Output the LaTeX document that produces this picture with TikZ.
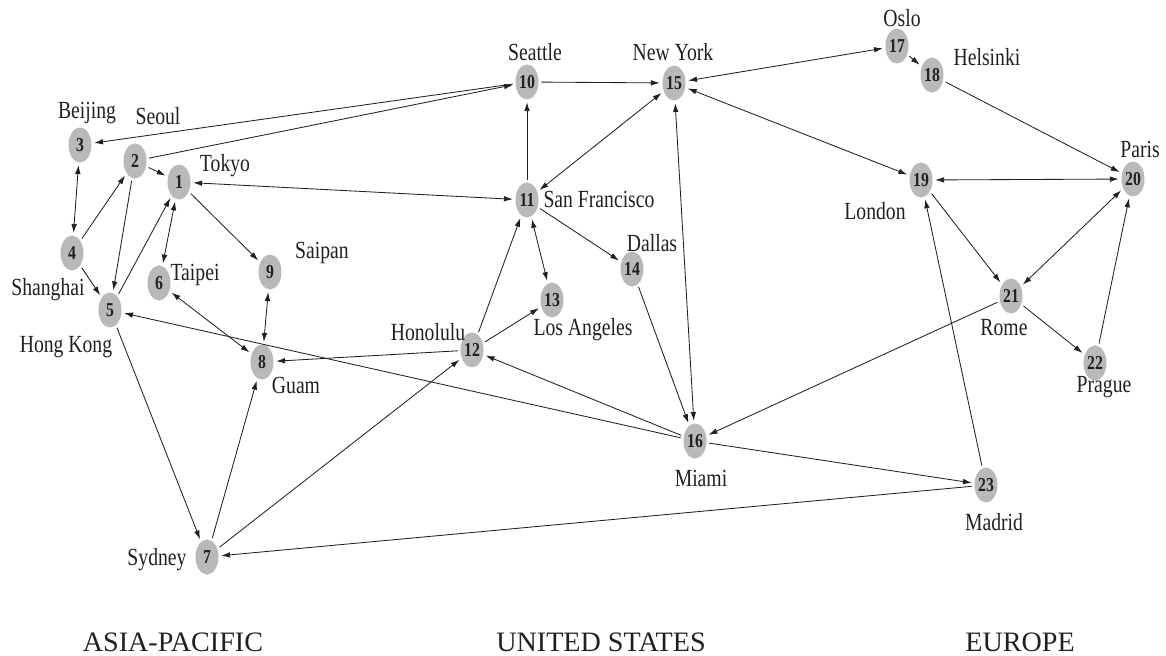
\documentclass[tikz,border=0pt]{standalone}
\usepackage{fontspec}
\setmainfont{Liberation Serif}
\newfontfamily\cityfont[FakeStretch=0.8]{Liberation Serif}
\usetikzlibrary{arrows.meta,shapes.geometric}
\definecolor{HubGray}{RGB}{185,185,185}
\definecolor{InkBlack}{RGB}{35,31,32}
\tikzset{
    hub/.style={ellipse, fill=HubGray, minimum width=0.575cm, minimum height=0.875cm, inner sep=0pt, outer sep=2pt, text=InkBlack, font=\cityfont\bfseries\fontsize{14}{14}\selectfont},
    city/.style={inner sep=0pt, text=InkBlack, font=\cityfont\fontsize{17.5}{18}\selectfont},
    region/.style={inner sep=0pt, text=InkBlack, font=\fontsize{20}{22}\selectfont},
    oneway/.style={-{Latex[length=2.2mm,width=1.4mm]}, line width=0.6pt, draw=InkBlack},
    twoway/.style={{Latex[length=2.2mm,width=1.4mm]}-{Latex[length=2.2mm,width=1.4mm]}, line width=0.6pt, draw=InkBlack},
}

\begin{document}
\begin{tikzpicture}[x=0.025cm, y=-0.025cm]
\useasboundingbox (0,0) rectangle (1166,656);

% hubs
\node[hub] (n1) at (179,182) {1};
\node[hub] (n2) at (135,161) {2};
\node[hub] (n3) at (80,145) {3};
\node[hub] (n4) at (72,253) {4};
\node[hub] (n5) at (110,310) {5};
\node[hub] (n6) at (159,283) {6};
\node[hub] (n7) at (207,557) {7};
\node[hub] (n8) at (262,362) {8};
\node[hub] (n9) at (270,272) {9};
\node[hub] (n10) at (527,82) {10};
\node[hub] (n11) at (527,200) {11};
\node[hub] (n12) at (472,350) {12};
\node[hub] (n13) at (552,300) {13};
\node[hub] (n14) at (632,269) {14};
\node[hub] (n15) at (674,83) {15};
\node[hub] (n16) at (695,441) {16};
\node[hub] (n17) at (897,46) {17};
\node[hub] (n18) at (932,75) {18};
\node[hub] (n19) at (921,180) {19};
\node[hub] (n20) at (1133,179) {20};
\node[hub] (n21) at (1011,296) {21};
\node[hub] (n22) at (1095,363) {22};
\node[hub] (n23) at (986,485) {23};

% city names
\node[city] (tokyo) at (225,166) {Tokyo};
\node[city] (seoul) at (158,116) {Seoul};
\node[city] (beijing) at (87,113) {Beijing};
\node[city] (shanghai) at (48,290) {Shanghai};
\node[city] (hongkong) at (66,347) {Hong Kong};
\node[city] (taipei) at (195,275) {Taipei};
\node[city] (sydney) at (157,560) {Sydney};
\node[city] (guam) at (296,385) {Guam};
\node[city] (saipan) at (322,253) {Saipan};
\node[city] (seattle) at (535,52) {Seattle};
\node[city] (sanfran) at (599,199) {San Francisco};
\node[city] (honolulu) at (428,332) {Honolulu};
\node[city] (losangeles) at (583,330) {Los Angeles};
\node[city] (dallas) at (652,243) {Dallas};
\node[city] (newyork) at (673,52) {New York};
\node[city] (miami) at (701,478) {Miami};
\node[city] (oslo) at (902,18) {Oslo};
\node[city] (helsinki) at (987,57) {Helsinki};
\node[city] (london) at (875,211) {London};
\node[city] (paris) at (1140,149) {Paris};
\node[city] (rome) at (1004,328) {Rome};
\node[city] (prague) at (1104,387) {Prague};
\node[city] (madrid) at (994,522) {Madrid};

% regions
\node[region] (asia) at (173,642) {ASIA-PACIFIC};
\node[region] (us) at (601,642) {UNITED STATES};
\node[region] (europe) at (1020,642) {EUROPE};

% asia-pacific
\draw[oneway] (n2) -- (n1);
\draw[twoway] (n3) -- (n4);
\draw[oneway] (n4) -- (n2);
\draw[oneway] (n2) -- (n5);
\draw[oneway] (n4) -- (n5);
\draw[oneway] (n5) -- (n1);
\draw[twoway] (n1) -- (n6);
\draw[oneway] (n1) -- (n9);
\draw[twoway] (n6) -- (n8);
\draw[twoway] (n9) -- (n8);
\draw[oneway] (n5) -- (n7);
\draw[oneway] (n7) -- (n8);

% pacific links
\draw[oneway] (n10) -- (n3);
\draw[oneway] (n2) -- (n10);
\draw[twoway] (n1) -- (n11);
\draw[oneway] (n12) -- (n8);
\draw[oneway] (n7) -- (n12);
\draw[oneway] (n16) -- (n5);
\draw[oneway] (n23) -- (n7);

% united states
\draw[oneway] (n11) -- (n10);
\draw[oneway] (n10) -- (n15);
\draw[twoway] (n11) -- (n15);
\draw[oneway] (n12) -- (n11);
\draw[oneway] (n12) -- (n13);
\draw[twoway] (n11) -- (n13);
\draw[oneway] (n11) -- (n14);
\draw[oneway] (n14) -- (n16);
\draw[twoway] (n15) -- (n16);
\draw[oneway] (n16) -- (n12);

% atlantic links
\draw[twoway] (n15) -- (n17);
\draw[twoway] (n15) -- (n19);
\draw[oneway] (n21) -- (n16);
\draw[oneway] (n16) -- (n23);
\draw[oneway] (n23) -- (n19);

% europe
\draw[oneway] (n17) -- (n18);
\draw[oneway] (n18) -- (n20);
\draw[twoway] (n19) -- (n20);
\draw[oneway] (n19) -- (n21);
\draw[twoway] (n20) -- (n21);
\draw[oneway] (n21) -- (n22);
\draw[oneway] (n22) -- (n20);
\end{tikzpicture}
\end{document}
